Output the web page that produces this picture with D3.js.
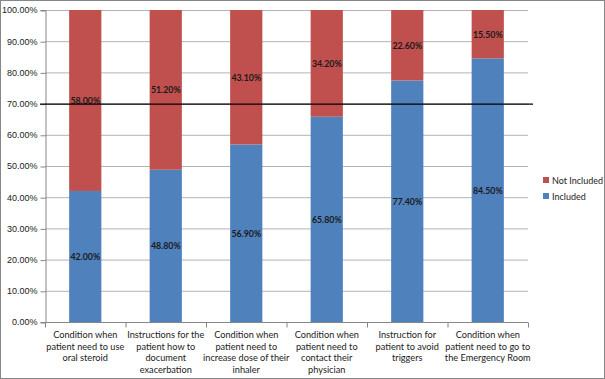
<html><head>
<style>
    body { margin: 0; background: #fff; }
    svg { display: block; font-family: Lato, 'Liberation Sans', sans-serif; }
</style>
<script src="https://cdnjs.cloudflare.com/ajax/libs/d3/7.8.5/d3.min.js"></script>
</head>
<body>
<div id="chart"></div>
<script>
// chart data
const categories = [
    ["Condition when", "patient need to use", "oral steroid"],
    ["Instructions for the", "patient how to", "document", "exacerbation"],
    ["Condition when", "patient need to", "increase dose of their", "inhaler"],
    ["Condition when", "patient need to", "contact their", "physician"],
    ["Instruction for", "patient to avoid", "triggers"],
    ["Condition when", "patient need to go to", "the Emergency Room"]
];
const included = [42.0, 48.8, 56.9, 65.8, 77.4, 84.5];
const notIncluded = [58.0, 51.2, 43.1, 34.2, 22.6, 15.5];
const yTicks = [0, 10, 20, 30, 40, 50, 60, 70, 80, 90, 100];
const referenceLine = 70;

const width = 605, height = 379;
const margin = { left: 45, right: 77, top: 10, bottom: 57 };

const svg = d3.select("#chart").append("svg")
    .attr("width", width)
    .attr("height", height);

// outer frame
svg.append("rect")
    .attr("x", 0.5).attr("y", 0.5)
    .attr("width", width - 1).attr("height", height - 1)
    .attr("fill", "#fff").attr("stroke", "#868686");

const x = d3.scaleBand()
    .domain(d3.range(categories.length))
    .range([margin.left, width - margin.right])
    .paddingInner(0.6).paddingOuter(0.3);

const y = d3.scaleLinear()
    .domain([0, 100])
    .range([height - margin.bottom, margin.top]);

// gridlines
svg.append("g")
    .selectAll("line")
    .data(yTicks.slice(1))
    .enter().append("line")
    .attr("x1", margin.left).attr("x2", width - margin.right)
    .attr("y1", d => y(d) + 0.5).attr("y2", d => y(d) + 0.5)
    .attr("stroke", "#b3b3b3");

// y axis
const yAxis = svg.append("g")
    .attr("transform", `translate(${margin.left + 0.5},0)`)
    .call(d3.axisLeft(y).tickValues(yTicks).tickSize(5).tickPadding(3)
        .tickFormat(d => d.toFixed(2) + "%"));
yAxis.select(".domain").attr("stroke", "#868686");
yAxis.selectAll(".tick line").attr("stroke", "#868686").attr("transform", "translate(0,0.5)");
yAxis.selectAll("text").attr("font-size", 9).attr("fill", "#222").attr("font-family", null);

// stacked bars
const stackData = categories.map((c, i) => ({ i: i, included: included[i], notIncluded: notIncluded[i] }));
const series = d3.stack().keys(["included", "notIncluded"])(stackData);
const colors = { included: "#4f81bd", notIncluded: "#c0504d" };

series.forEach(s => {
    svg.append("g")
        .selectAll("rect")
        .data(s)
        .enter().append("rect")
        .attr("x", d => x(d.data.i))
        .attr("width", x.bandwidth())
        .attr("y", d => y(d[1]))
        .attr("height", d => y(d[0]) - y(d[1]))
        .attr("fill", colors[s.key]);
});

// x axis
const xAxis = svg.append("g")
    .attr("transform", `translate(0,${y(0) + 0.5})`);
xAxis.append("line")
    .attr("x1", margin.left).attr("x2", width - margin.right)
    .attr("stroke", "#868686");
xAxis.selectAll(".tk")
    .data(d3.range(categories.length + 1))
    .enter().append("line")
    .attr("x1", d => margin.left + 0.5 + d * (width - margin.right - margin.left) / categories.length)
    .attr("x2", d => margin.left + 0.5 + d * (width - margin.right - margin.left) / categories.length)
    .attr("y1", 0).attr("y2", 5)
    .attr("stroke", "#868686");

const catLabels = svg.append("g")
    .selectAll("text")
    .data(categories)
    .enter().append("text")
    .attr("x", (d, i) => x(i) + x.bandwidth() / 2)
    .attr("y", y(0) + 16)
    .attr("text-anchor", "middle")
    .attr("font-size", 9.2)
    .attr("fill", "#222");
catLabels.selectAll("tspan")
    .data(d => d)
    .enter().append("tspan")
    .attr("x", function () { return this.parentNode.getAttribute("x"); })
    .attr("dy", (d, i) => i === 0 ? 0 : 11.5)
    .text(d => d);

// value labels
series.forEach(s => {
    svg.append("g")
        .selectAll("text")
        .data(s)
        .enter().append("text")
        .attr("x", d => x(d.data.i) + x.bandwidth() / 2)
        .attr("y", d => y((d[0] + d[1]) / 2) + 3.5)
        .attr("text-anchor", "middle")
        .attr("font-size", 8.8)
        .attr("font-weight", "bold")
        .attr("fill", "#1a1a1a")
        .text(d => (d[1] - d[0]).toFixed(2) + "%");
});

// 70% reference line
svg.append("line")
    .attr("x1", margin.left - 5).attr("x2", width - margin.right + 5)
    .attr("y1", y(referenceLine) + 0.5).attr("y2", y(referenceLine) + 0.5)
    .attr("stroke", "#000").attr("stroke-width", 1.2);

// legend
const legendItems = [
    { label: "Not Included", color: colors.notIncluded },
    { label: "Included", color: colors.included }
];
const legend = svg.append("g")
    .selectAll("g")
    .data(legendItems)
    .enter().append("g")
    .attr("transform", (d, i) => `translate(543,${177 + i * 16})`);
legend.append("rect")
    .attr("width", 6).attr("height", 6)
    .attr("fill", d => d.color);
legend.append("text")
    .attr("x", 9).attr("y", 7)
    .attr("font-size", 9)
    .attr("fill", "#222")
    .text(d => d.label);
</script>
</body>
</html>
